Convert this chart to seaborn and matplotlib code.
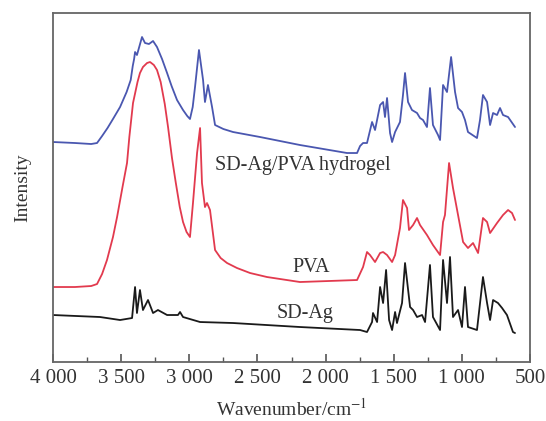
import numpy as np
import pandas as pd
import matplotlib
matplotlib.use("Agg")
import matplotlib.pyplot as plt
import seaborn as sns

# ---- data (wavenumber in cm^-1, intensity in arbitrary units) ----
hyd_w = [4000, 3839, 3720, 3677, 3640, 3600, 3560, 3508, 3460, 3430, 3415, 3405, 3398, 3384,
         3347, 3325, 3296, 3266, 3237, 3200, 3163, 3130, 3090, 3046, 3015, 2995, 2975, 2958,
         2929, 2899, 2885, 2863, 2833, 2811, 2750, 2679, 2481, 2188,
         1843, 1769, 1747, 1725, 1696, 1659, 1637, 1600, 1578, 1564, 1549, 1527, 1512, 1490,
         1454, 1432, 1417, 1395, 1366, 1329, 1307, 1285, 1256, 1234, 1212, 1175, 1160, 1138,
         1109, 1079, 1050, 1028, 999, 977, 955, 889, 867, 845, 815, 793, 771, 742, 720, 698,
         661, 610]
hyd_i = [220, 219, 218, 219, 226, 234, 243, 255, 270, 282, 296, 303, 310, 307,
         325, 319, 318, 321, 315, 303, 289, 276, 262, 252, 246, 243, 255, 275,
         312, 282, 260, 277, 255, 237, 233, 230, 225, 217,
         209, 209, 216, 219, 219, 240, 232, 257, 260, 245, 264, 229, 220, 230,
         240, 267, 289, 260, 252, 249, 244, 242, 235, 274, 237, 227, 222, 277,
         270, 305, 270, 254, 250, 242, 230, 224, 242, 267, 260, 237, 249, 247, 254, 247,
         245, 235]

pva_w = [4000, 3839, 3720, 3677, 3640, 3604, 3560, 3530, 3490, 3457, 3440, 3413, 3380, 3362,
         3340, 3310, 3288, 3260, 3237, 3210, 3180, 3156, 3127, 3100, 3070, 3046, 3020, 2995,
         2973, 2943, 2921, 2907, 2885, 2870, 2848, 2811, 2770, 2723, 2650, 2554, 2430,
         2188, 1769, 1725, 1696, 1674, 1637, 1600, 1578, 1549, 1512, 1490, 1454, 1432, 1402,
         1388, 1358, 1329, 1307, 1256, 1212, 1160, 1138, 1124, 1094, 1065, 1028, 991, 955,
         918, 881, 845, 815, 793, 742, 698, 661, 632, 610]
pva_i = [75, 75, 76, 78, 88, 102, 125, 145, 175, 199, 225, 259, 280, 289,
         295, 299, 300, 297, 292, 280, 258, 235, 204, 180, 155, 140, 130, 125,
         159, 209, 234, 179, 155, 159, 152, 112, 104, 99, 94, 89, 85,
         80, 82, 95, 110, 107, 100, 109, 110, 107, 100, 107, 134, 162, 154,
         132, 137, 144, 137, 127, 117, 107, 140, 147, 199, 174, 147, 120, 114,
         119, 109, 144, 140, 129, 139, 147, 152, 149, 142]

sdag_w = [4000, 3655, 3508, 3420, 3398, 3384, 3362, 3340, 3303, 3266, 3230, 3163, 3083, 3068,
          3046, 2921, 2679, 2188, 1747, 1696, 1659, 1652, 1622, 1600, 1578, 1556, 1534, 1512,
          1490, 1476, 1439, 1417, 1380, 1358, 1329, 1292, 1270, 1234, 1212, 1160, 1138, 1109,
          1087, 1065, 1028, 999, 977, 955, 889, 845, 815, 793, 771, 735, 705, 669, 625, 610]
sdag_i = [47, 45, 42, 44, 75, 49, 72, 52, 62, 49, 52, 47, 47, 50,
          45, 40, 39, 35, 32, 30, 40, 49, 40, 75, 59, 92, 42, 32,
          50, 39, 59, 99, 55, 52, 45, 47, 40, 97, 45, 32, 102, 59,
          105, 45, 52, 35, 75, 35, 32, 85, 59, 42, 62, 59, 54, 47, 30, 29]

labels = ["SD-Ag/PVA hydrogel", "PVA", "SD-Ag"]
colors = ["#4a57b0", "#e23a4e", "#1a1a1a"]
x_ticks = [4000, 3500, 3000, 2500, 2000, 1500, 1000, 500]
x_ticklabels = ["4 000", "3 500", "3 000", "2 500", "2 000", "1 500", "1 000", "500"]

sns.set_theme(style="white")
plt.rcParams["font.family"] = ["Liberation Serif", "DejaVu Serif"]
plt.rcParams["mathtext.fontset"] = "stix"

fig = plt.figure(figsize=(5.46, 4.21), dpi=100)
ax = fig.add_axes([0.0971, 0.1401, 0.8736, 0.829])

series = [(hyd_w, hyd_i), (pva_w, pva_i), (sdag_w, sdag_i)]
for (w, inten), lab, c in zip(series, labels, colors):
    df = pd.DataFrame({"w": w, "I": inten})
    sns.lineplot(data=df, x="w", y="I", ax=ax, color=c, lw=1.3, sort=False)

ax.set_xlim(4000, 500)
ax.set_ylim(0, 349)
ax.set_xticks(x_ticks)
ax.set_xticklabels(x_ticklabels, fontsize=15, color="#333333")
ax.set_xticks(np.arange(3750, 500, -500), minor=True)
ax.set_yticks([])
ax.tick_params(axis="x", which="major", direction="in", length=6, width=1.2,
               color="#555555", pad=5, bottom=True)
ax.tick_params(axis="x", which="minor", direction="in", length=3.5, width=1.0,
               color="#555555", bottom=True)
for s in ax.spines.values():
    s.set_color("#666666")
    s.set_linewidth(1.3)

ax.set_xlabel(r"Wavenumber/cm$^{-1}$", fontsize=14, color="#333333", labelpad=7)
ax.set_ylabel("Intensity", fontsize=14, color="#333333", labelpad=16)

ax.text(2811, 197, labels[0], fontsize=14.5, color="#333333", ha="left", va="center")
ax.text(2107, 95, labels[1], fontsize=14.5, color="#333333", ha="center", va="center")
ax.text(2151, 49, labels[2], fontsize=14.5, color="#333333", ha="center", va="center")

fig.savefig("out.png", dpi=100)
